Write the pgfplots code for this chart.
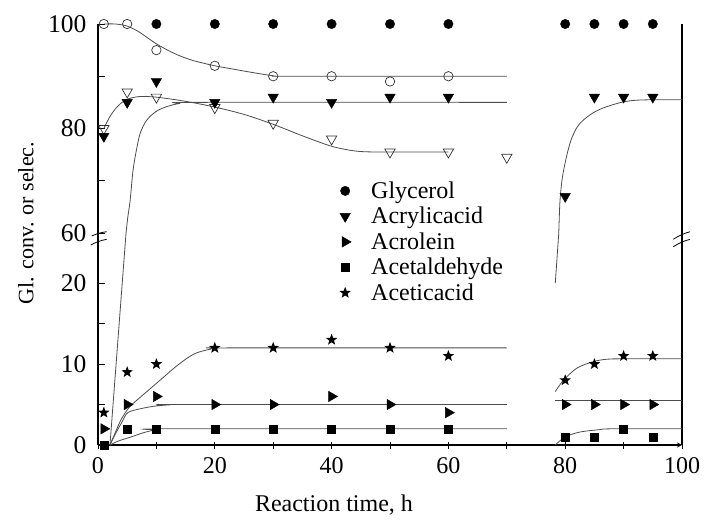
\documentclass[border=0pt]{standalone}
\usepackage{fontspec}
\setmainfont{Liberation Serif}
\usepackage{pgfplots}
\pgfplotsset{compat=1.18}
\pgfdeclareplotmark{fstar}{%
  \pgfpathmoveto{\pgfpointpolar{90}{\pgfplotmarksize}}%
  \pgfpathlineto{\pgfpointpolar{126}{0.42\pgfplotmarksize}}%
  \pgfpathlineto{\pgfpointpolar{162}{\pgfplotmarksize}}%
  \pgfpathlineto{\pgfpointpolar{198}{0.42\pgfplotmarksize}}%
  \pgfpathlineto{\pgfpointpolar{234}{\pgfplotmarksize}}%
  \pgfpathlineto{\pgfpointpolar{270}{0.42\pgfplotmarksize}}%
  \pgfpathlineto{\pgfpointpolar{306}{\pgfplotmarksize}}%
  \pgfpathlineto{\pgfpointpolar{342}{0.42\pgfplotmarksize}}%
  \pgfpathlineto{\pgfpointpolar{18}{\pgfplotmarksize}}%
  \pgfpathlineto{\pgfpointpolar{54}{0.42\pgfplotmarksize}}%
  \pgfpathclose
  \pgfusepathqfill
}
\pgfplotsset{
  brk/.style={
    scale only axis, width=584pt, xmin=0, xmax=100, clip=false,
    tick align=inside, major tick length=7pt, minor tick length=7pt,
    every tick/.style={black, line width=0.9pt},
    axis line style={black, line width=1.2pt, -},
    xticklabel style={font=\fontsize{24}{28}\selectfont, yshift=-6pt},
    yticklabel style={font=\fontsize{25.5}{28}\selectfont, xshift=-8pt},
    /pgf/number format/assume math mode=true,
  },
  fit/.style={no marks, black!70, line width=0.8pt, smooth, forget plot},
  gly/.style={only marks, mark=*, mark size=4.7pt, black, forget plot},
  ogly/.style={only marks, mark=o, mark size=4.7pt, black!80, mark options={line width=0.7pt}, forget plot},
  acr/.style={only marks, mark=triangle*, mark size=6pt, black, mark options={rotate=180}, forget plot},
  oacr/.style={only marks, mark=triangle, mark size=6pt, black!80, mark options={rotate=180, line width=0.7pt}, forget plot},
  acro/.style={only marks, mark=triangle*, mark size=6pt, black, mark options={rotate=-90}, forget plot},
  ald/.style={only marks, mark=square*, mark size=4pt, black, forget plot},
  ace/.style={only marks, mark=fstar, mark size=6pt, black, forget plot},
}
\begin{document}
\begin{tikzpicture}
\useasboundingbox (-98pt,-77pt) rectangle (606pt,445pt);
% ---------------- upper part ----------------
\begin{axis}[brk, at={(0pt,212pt)}, anchor=south west, height=209pt,
  ymin=60, ymax=100,
  axis x line=none, axis y line=box,
  xtick=\empty, ytick={60,80,100}, minor ytick={70,90}, ytick pos=left]
\addplot[fit] coordinates {(1,100) (3,100) (5,99.6) (7,98.5) (10,96.2) (13,94.4) (16,93.1) (20,92) (23,91.4) (26,90.8) (30,90.1) (33,90) (70,90)};
\addplot[fit] coordinates {(1,80) (2,82.2) (3,83.8) (4,84.9) (5,85.6) (7,86.1) (10,86) (15,85.2) (20,84.1) (25,82.7) (30,80.8) (35,78.6) (40,76.6) (44,75.7) (48,75.5) (60,75.5)};
\addplot[fit] coordinates {(4.8,60) (5.1,63) (5.5,66.2) (6,72) (6.6,76) (7.2,79) (8,81) (8.9,82.3) (10.3,83.5) (11.8,84.2) (14,84.8) (17,85) (70,85)};
\addplot[fit] coordinates {(78.9,60) (79.1,66) (79.5,70.5) (80.2,74.5) (81,77.8) (82,80.2) (83,81.5) (84.5,82.8) (86,83.7) (88,84.5) (90,85.1) (92,85.4) (95,85.5) (100,85.5)};
\addplot[gly] coordinates {(10,100) (20,100) (30,100) (40,100) (50,100) (60,100) (80,100) (85,100) (90,100) (95,100)};
\addplot[ogly] coordinates {(1,100) (5,100) (10,95) (20,92) (30,90) (40,90) (50,89) (60,90)};
\addplot[oacr] coordinates {(1,80) (5,87) (10,86) (20,84) (30,81) (40,78) (50,75.5) (60,75.5) (70,74.5)};
\addplot[acr] coordinates {(1,78.5) (5,85) (10,89) (20,85) (30,86) (40,85) (50,86) (60,86) (80,67) (85,86) (90,86) (95,86)};
\end{axis}
% ---------------- lower part ----------------
\begin{axis}[brk, at={(0pt,0pt)}, anchor=south west, height=212pt,
  ymin=0, ymax=26.2,
  axis x line=bottom, axis y line=box,
  xtick={0,20,...,100}, minor xtick={10,30,...,90},
  ytick={0,10,20}, minor ytick={5,15}, ytick pos=left,
  legend style={at={(0.408,1.255)}, anchor=north west, draw=none, fill=none,
    font=\fontsize{24}{26}\selectfont, column sep=20pt,
    nodes={inner sep=0pt, text height=17pt, text depth=8.5pt}},
  legend image post style={yshift=3pt},
  legend cell align=left]
\addlegendimage{only marks, mark=*, mark size=4.7pt, black}
\addlegendentry{Glycerol}
\addlegendimage{only marks, mark=triangle*, mark size=6pt, black, mark options={rotate=180}}
\addlegendentry{Acrylicacid}
\addlegendimage{only marks, mark=triangle*, mark size=6pt, black, mark options={rotate=-90}}
\addlegendentry{Acrolein}
\addlegendimage{only marks, mark=square*, mark size=4pt, black}
\addlegendentry{Acetaldehyde}
\addlegendimage{only marks, mark=fstar, mark size=6pt, black}
\addlegendentry{Aceticacid}
\addplot[fit] coordinates {(2.05,0) (4.8,26.2)};
\addplot[fit] coordinates {(78.3,20) (78.9,26.2)};
\addplot[fit] coordinates {(2.05,0) (3,1.6) (4,3.2) (5.4,4.7) (7.4,6.0) (10.3,7.8) (13.7,9.9) (16.6,11.3) (20,11.95) (22,12) (70,12)};
\addplot[fit] coordinates {(2.05,0) (3,1.4) (4,2.7) (5.1,4.0) (7.4,4.5) (9.7,4.8) (12,4.95) (14,5) (70,5)};
\addplot[fit] coordinates {(2.05,0) (3.5,0.5) (5.7,1.0) (7.7,1.5) (9.7,1.85) (12,2) (70,2)};
\addplot[fit] coordinates {(78.3,6.6) (79.7,8.0) (82,9.5) (84.8,10.3) (87.1,10.6) (90,10.65) (100,10.65)};
\addplot[fit, sharp plot] coordinates {(78.3,5.5) (100,5.5)};
\addplot[fit] coordinates {(78.3,0) (80,1.0) (82.5,1.6) (85.9,1.9) (88,2.0) (100,2.0)};
\addplot[acro] coordinates {(1,2) (5,5) (10,6) (20,5) (30,5) (40,6) (50,5) (60,4) (80,5) (85,5) (90,5) (95,5)};
\addplot[ald] coordinates {(1,0) (5,2) (10,2) (20,2) (30,2) (40,2) (50,2) (60,2) (80,1) (85,1) (90,2) (95,1)};
\addplot[ace] coordinates {(1,4) (5,9) (10,10) (20,12) (30,12) (40,13) (50,12) (60,11) (80,8) (85,10) (90,11) (95,11)};
\end{axis}
% break marks
\draw[black, line width=0.8pt] (-6.3pt,209pt) to[bend left=8] (8.7pt,213.3pt);
\draw[black, line width=0.8pt] (-7.3pt,200pt) to[bend left=8] (8.7pt,205.7pt);
\draw[black, line width=0.8pt] (575.3pt,205.7pt) to[bend left=8] (592pt,213.3pt);
\draw[black, line width=0.8pt] (575.3pt,198.3pt) to[bend left=8] (592pt,205.7pt);
% axis labels
\node[font=\fontsize{24}{28}\selectfont] at (236pt,-60pt) {Reaction time, h};
\node[rotate=90, font=\fontsize{22}{26}\selectfont] at (-72pt,222pt) {Gl. conv. or selec.};
\end{tikzpicture}
\end{document}
